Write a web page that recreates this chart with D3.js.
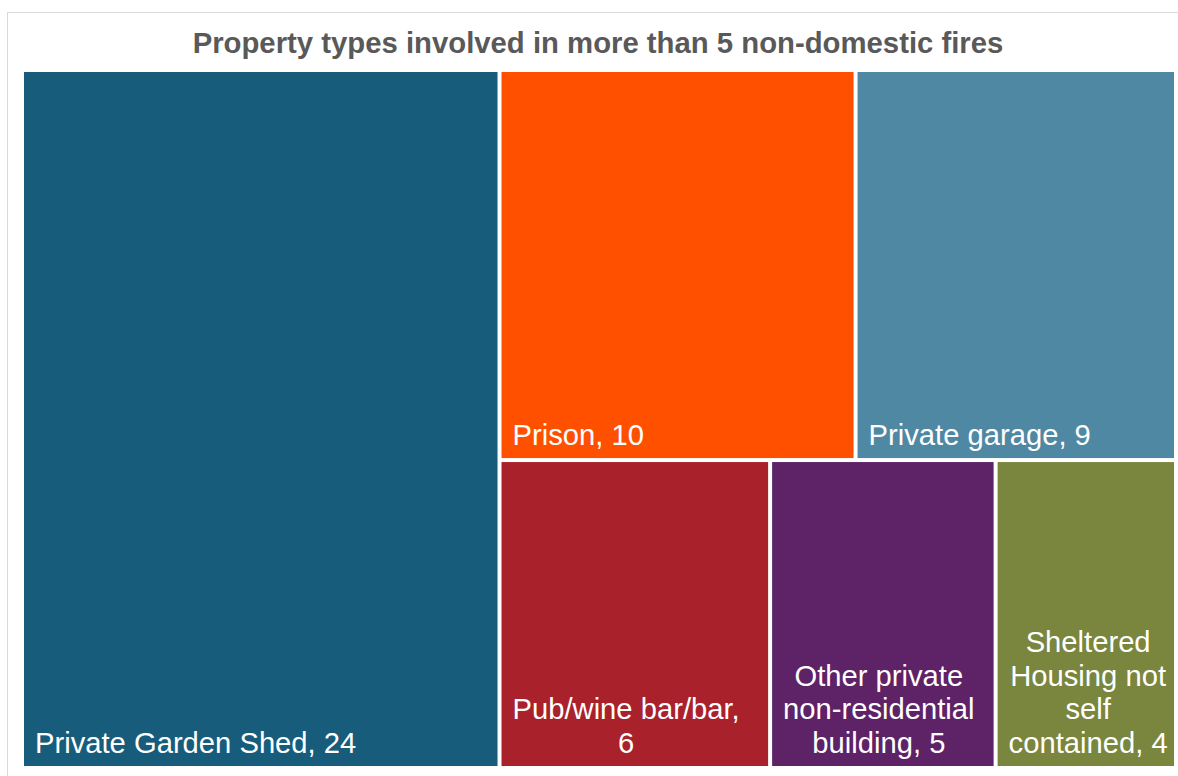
<!DOCTYPE html>
<html>
<head>
<meta charset="utf-8">
<script src="https://cdn.jsdelivr.net/npm/d3@7"></script>
<style>
  body { margin: 0; background: #fff; }
  text { font-family: Arial, "Liberation Sans", sans-serif; }
</style>
</head>
<body>
<script>
var width = 1178, height = 776;

// data
var categories = ["Private Garden Shed", "Prison", "Private garage", "Pub/wine bar/bar",
                  "Other private non-residential building", "Sheltered Housing not self contained"];
var fires = [24, 10, 9, 6, 5, 4];
var colours = ["#185c7b", "#ff5000", "#4f88a3", "#a9212a", "#5e2266", "#7a863d"];
var title = "Property types involved in more than 5 non-domestic fires";

var svg = d3.select("body").append("svg")
    .attr("width", width)
    .attr("height", height);

// chart frame
svg.append("rect")
    .attr("x", 7.5).attr("y", 12.5)
    .attr("width", 1200).attr("height", 800)
    .attr("fill", "none")
    .attr("stroke", "#d9d9d9");

svg.append("text")
    .attr("x", 598).attr("y", 53)
    .attr("text-anchor", "middle")
    .attr("font-size", 29.3)
    .attr("font-weight", "bold")
    .attr("fill", "#595959")
    .text(title);

var root = d3.hierarchy({
        children: categories.map(function (c, i) {
            return { name: c, value: fires[i], colour: colours[i] };
        })
    })
    .sum(function (d) { return d.value || 0; })
    .sort(function (a, b) { return b.value - a.value; });

d3.treemap()
    .tile(d3.treemapSquarify.ratio(1))
    .size([1150, 694])
    .paddingInner(4)(root);

var map = svg.append("g").attr("transform", "translate(24,72)");

var cell = map.selectAll("g")
    .data(root.leaves())
    .enter().append("g")
    .attr("transform", function (d) { return "translate(" + d.x0 + "," + d.y0 + ")"; });

cell.append("rect")
    .attr("width", function (d) { return d.x1 - d.x0; })
    .attr("height", function (d) { return d.y1 - d.y0; })
    .attr("fill", function (d) { return d.data.colour; });

var fontSize = 29.2, lineH = 33.5;

cell.each(function (d) {
    var g = d3.select(this);
    var w = d.x1 - d.x0, h = d.y1 - d.y0;
    var maxW = w - 17;
    var words = (d.data.name + ", " + d.data.value).split(" ");

    var t = g.append("text")
        .attr("font-size", fontSize)
        .attr("fill", "#fff")
        .attr("text-anchor", "middle");

    // greedy wrap, measuring each trial line
    var lines = [], line = [];
    var probe = t.append("tspan");
    words.forEach(function (word) {
        line.push(word);
        probe.text(line.join(" "));
        if (probe.node().getComputedTextLength() > maxW && line.length > 1) {
            line.pop();
            lines.push(line.join(" "));
            line = [word];
        }
    });
    lines.push(line.join(" "));
    probe.remove();

    var widths = lines.map(function (l) {
        var s = t.append("tspan").text(l);
        var len = s.node().getComputedTextLength();
        s.remove();
        return len;
    });
    var blockW = d3.max(widths);
    var cx = 11 + blockW / 2;
    var base = h - 13;

    lines.forEach(function (l, i) {
        t.append("tspan")
            .attr("x", cx)
            .attr("y", base - (lines.length - 1 - i) * lineH)
            .text(l);
    });
});
</script>
</body>
</html>
